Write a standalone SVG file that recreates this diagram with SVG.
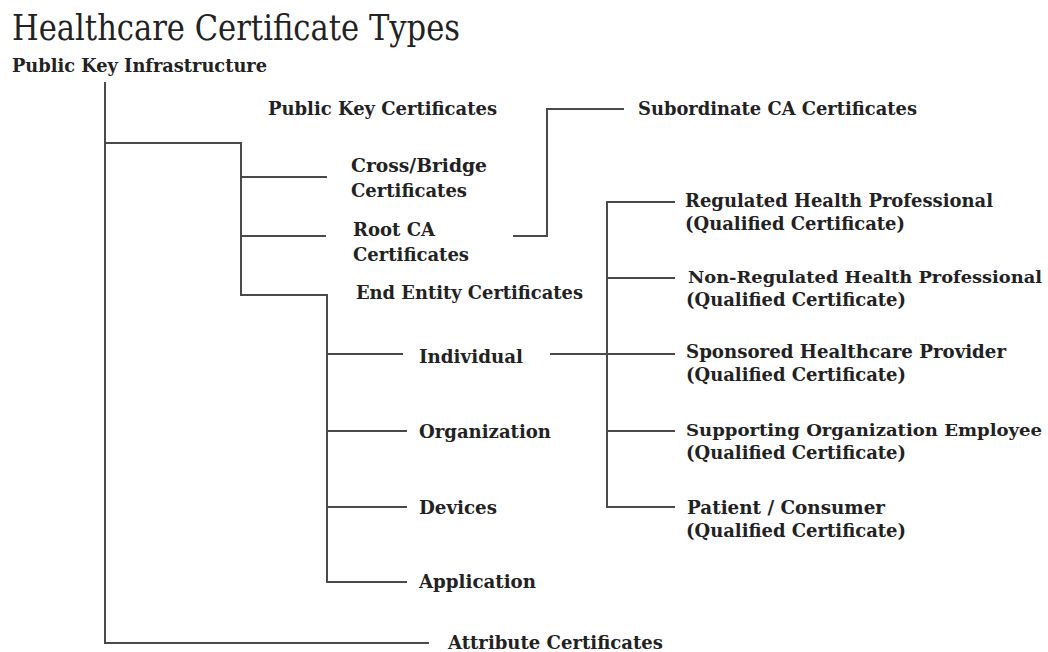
<svg xmlns="http://www.w3.org/2000/svg" width="1048" height="652" viewBox="0 0 1048 652">
<style>
text{font-family:"DejaVu Serif","Liberation Serif",serif;fill:#222;}
.t{font-size:35px;}
.n{font-size:18.5px;font-weight:bold;}
.s{font-size:16px;}
.c{fill:none;stroke:#4a4a4a;stroke-width:2;}
</style>
<rect width="1048" height="652" fill="#fff"/>
<g id="connectors">
<path class="c" d="M105,82 V643 H429"/>
<path class="c" d="M105,143 H241 V295 H327 V582 H407"/>
<path class="c" d="M241,177 H327"/>
<path class="c" d="M241,236 H326"/>
<path class="c" d="M327,354 H403"/>
<path class="c" d="M327,431 H407"/>
<path class="c" d="M327,507 H407"/>
<path class="c" d="M513,236 H547 V109 H624"/>
<path class="c" d="M675,202 H607 V507 H675"/>
<path class="c" d="M607,278 H675"/>
<path class="c" d="M550,354 H675"/>
<path class="c" d="M607,431 H675"/>
</g>
<g id="title"><text class="t" x="12" y="40" textLength="448" lengthAdjust="spacingAndGlyphs">Healthcare Certificate Types</text></g>
<g id="pki"><text class="n" x="12" y="72" textLength="255" lengthAdjust="spacingAndGlyphs">Public Key Infrastructure</text></g>
<g id="pkc"><text class="n" x="268" y="115" textLength="229" lengthAdjust="spacingAndGlyphs">Public Key Certificates</text></g>
<g id="subca"><text class="n" x="638" y="115" textLength="279" lengthAdjust="spacingAndGlyphs">Subordinate CA Certificates</text></g>
<g id="cross"><text class="n" x="351" y="172" textLength="136" lengthAdjust="spacingAndGlyphs">Cross/Bridge</text><text class="n" x="351" y="197" textLength="116" lengthAdjust="spacingAndGlyphs">Certificates</text></g>
<g id="root"><text class="n" x="353" y="236" textLength="82" lengthAdjust="spacingAndGlyphs">Root CA</text><text class="n" x="353" y="261" textLength="116" lengthAdjust="spacingAndGlyphs">Certificates</text></g>
<g id="endentity"><text class="n" x="356" y="299" textLength="227" lengthAdjust="spacingAndGlyphs">End Entity Certificates</text></g>
<g id="individual"><text class="n" x="419" y="363" textLength="104" lengthAdjust="spacingAndGlyphs">Individual</text></g>
<g id="organization"><text class="n" x="419" y="438" textLength="132" lengthAdjust="spacingAndGlyphs">Organization</text></g>
<g id="devices"><text class="n" x="419" y="514" textLength="78" lengthAdjust="spacingAndGlyphs">Devices</text></g>
<g id="application"><text class="n" x="419" y="588" textLength="117" lengthAdjust="spacingAndGlyphs">Application</text></g>
<g id="attribute"><text class="n" x="448" y="649" textLength="215" lengthAdjust="spacingAndGlyphs">Attribute Certificates</text></g>
<g id="regulated"><text class="n" x="685" y="207" textLength="308" lengthAdjust="spacingAndGlyphs">Regulated Health Professional</text><text class="n" x="685" y="230" textLength="220" lengthAdjust="spacingAndGlyphs">(Qualified Certificate)</text></g>
<g id="nonregulated"><text class="n s" x="688" y="283" textLength="354" lengthAdjust="spacingAndGlyphs">Non-Regulated Health Professional</text><text class="n" x="686" y="306" textLength="220" lengthAdjust="spacingAndGlyphs">(Qualified Certificate)</text></g>
<g id="sponsored"><text class="n" x="686" y="358" textLength="320" lengthAdjust="spacingAndGlyphs">Sponsored Healthcare Provider</text><text class="n" x="686" y="381" textLength="220" lengthAdjust="spacingAndGlyphs">(Qualified Certificate)</text></g>
<g id="supporting"><text class="n s" x="686" y="436" textLength="356" lengthAdjust="spacingAndGlyphs">Supporting Organization Employee</text><text class="n" x="686" y="459" textLength="220" lengthAdjust="spacingAndGlyphs">(Qualified Certificate)</text></g>
<g id="patient"><text class="n" x="687" y="514" textLength="198" lengthAdjust="spacingAndGlyphs">Patient / Consumer</text><text class="n" x="686" y="537" textLength="220" lengthAdjust="spacingAndGlyphs">(Qualified Certificate)</text></g>
</svg>
